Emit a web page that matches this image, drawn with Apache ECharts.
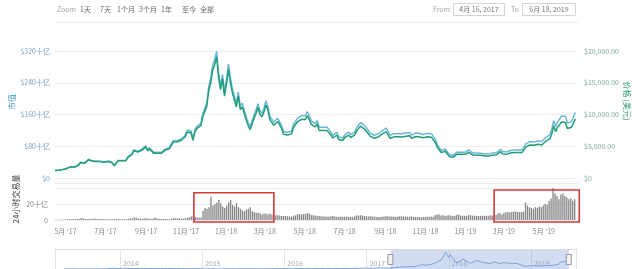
<!DOCTYPE html>
<html><head><meta charset="utf-8">
<script src="https://cdn.jsdelivr.net/npm/echarts@6/dist/echarts.min.js"></script>
<style>html,body{margin:0;padding:0;background:#fff;}#c{width:640px;height:269px;}</style>
</head><body><div id="c"></div>
<script>
// ---- data (3-day steps starting 2017-04-16) ----
const startDate = [2017, 3, 16];
const stepDays = 3;
const priceUSD = [
1180,1210,1230,1265,1320,
1420,1510,1560,1750,1720,1720,1960,2050,2450,2200,2300,
2520,2870,2800,2650,2450,2580,2700,2580,2500,2480,
2580,2610,2500,2380,1930,2300,2700,2750,2700,2750,
2720,3250,3420,3680,4300,4300,4100,4150,4350,4600,
4900,4250,4600,4300,3900,3650,3900,3650,3900,4200,
4400,4200,4600,4780,5650,5700,5700,6000,5900,5750,6450,
7200,6950,7150,5950,7300,7800,8050,8250,9700,9900,
11300,13700,15000,17000,17800,19100,15800,13900,15600,12900,
14800,17100,15000,13400,13600,11200,12900,10800,11200,11200,
9170,8270,7620,8550,8600,10200,11100,10000,9660,10400,
11500,10700,9200,9100,8300,8200,8900,8650,7800,6900,
7000,6780,7020,6950,8000,7900,8850,8950,9250,9400,
9200,9850,9200,8450,8700,8050,8500,7500,7350,7500,
7500,7500,7680,6770,6300,6500,6740,6050,6250,5900,
6350,6600,6750,6380,6250,6740,7380,7400,8170,8220,7730,
7420,6960,6550,6310,6270,6400,6480,6690,6910,6980,
7300,6800,6250,6300,6480,6280,6500,6700,6450,6620,
6560,6620,6640,6250,6280,6540,6470,6470,6470,6340,
6380,6480,6530,6400,6350,5600,4800,4400,4000,4280,
4200,3950,3400,3500,3280,3250,3750,4000,3740,3900,3740,
3800,4040,4000,3620,3560,3600,3540,3570,3530,3470,
3520,3470,3660,3600,3580,3670,3950,4140,3820,
3850,3720,3880,3930,3870,4000,4030,4000,3950,4030,4100,
4900,5050,5200,5050,5150,5300,5300,5450,5200,5350,
5800,5750,6150,6900,8200,7300,8000,8000,8800,8650,
8750,7800,7950,8000,8250,9300
];
const marketCapB = [
19.2,19.7,20.0,20.6,21.5,
23.1,24.6,25.4,28.5,28.0,28.0,31.9,33.4,39.9,35.9,37.5,
41.3,47.0,45.9,43.4,40.1,42.3,44.2,42.3,41.0,40.6,
42.4,42.9,41.1,39.2,31.7,37.8,44.4,45.2,44.4,45.2,
44.9,53.6,56.4,60.7,71.0,71.0,67.7,68.5,71.8,75.9,
81.1,70.4,76.2,71.2,64.6,60.4,64.6,60.4,64.6,69.6,
73.1,69.8,76.5,79.4,93.9,94.7,94.7,99.7,98.1,95.6,107.2,
120.1,115.9,119.3,99.2,121.8,130.1,134.3,137.6,161.8,165.1,
189.2,229.3,251.1,284.6,298.0,319.7,264.5,232.7,261.1,215.9,
248.6,287.3,252.0,225.1,228.5,188.2,216.7,181.4,188.2,188.2,
154.6,139.4,128.5,144.2,145.0,172.0,187.1,168.6,162.9,175.3,
194.6,181.0,155.7,154.0,140.4,138.7,150.6,146.4,132.0,116.7,
118.8,115.1,119.1,117.9,135.8,134.1,150.2,151.9,157.0,159.5,
156.7,167.7,156.7,143.9,148.2,137.1,144.8,127.7,125.2,127.7,
128.2,128.2,131.3,115.7,107.7,111.1,115.2,103.4,106.8,100.8,
108.8,113.1,115.7,109.4,107.1,115.5,126.5,126.8,140.0,140.9,132.5,
127.6,119.7,112.7,108.5,107.8,110.1,111.5,115.1,118.9,120.1,
126.0,117.4,107.9,108.7,111.8,108.4,112.2,115.6,111.3,114.3,
113.6,114.6,114.9,108.2,108.7,113.2,112.0,112.0,112.0,109.7,
110.8,112.5,113.4,111.1,110.2,97.2,83.3,76.4,69.4,74.3,
73.2,68.8,59.2,61.0,57.1,56.6,65.3,69.7,65.1,67.9,65.1,
66.4,70.6,69.9,63.2,62.2,62.9,61.8,62.4,61.7,60.6,
61.7,60.8,64.1,63.1,62.7,64.3,69.2,72.5,66.9,
67.7,65.4,68.2,69.1,68.0,70.3,70.8,70.3,69.4,70.8,72.1,
86.4,89.0,91.7,89.0,90.8,93.4,93.4,96.1,91.7,94.3,
102.6,101.7,108.8,122.1,145.1,129.1,141.5,141.5,155.7,153.0,
155.3,138.5,141.1,142.0,146.4,165.1
];
const volumeB = [
0.3,0.4,0.3,0.4,0.5,
0.6,0.8,0.9,1.0,1.1,0.9,1.2,1.4,2.5,1.8,1.3,
1.2,1.6,1.4,1.5,2.0,1.2,1.1,1.0,1.1,1.0,
0.9,0.8,0.9,0.8,1.1,1.2,1.6,1.0,1.0,0.9,
1.1,1.5,2.0,1.8,3.0,2.8,2.0,1.8,1.6,1.9,
2.3,1.9,1.5,1.4,2.4,2.8,1.6,1.2,1.1,1.3,
1.2,1.1,1.0,1.6,2.6,1.9,2.1,2.0,1.7,1.6,2.1,
3.0,3.5,4.5,5.0,3.5,3.0,3.2,3.0,12,15,
14,16,29,18,20,22,25,21,17,15,
18,22,25,19,17,21,16,14,12,11,
13,14,16,11,10,9,9,8,7,8,
8,7,8,7,6,6,6,5.5,5,5,
5,4.5,4.5,4.2,5.5,5.8,7.0,7.2,7.0,7.5,
7.8,8.5,8.0,6.5,5.8,5.5,5.2,5.0,4.6,4.4,
4.5,4.2,4.0,4.8,5.0,4.5,4.0,4.2,4.0,4.1,
4.0,4.3,4.0,3.9,3.6,4.2,5.8,5.5,6.0,5.5,5.0,
4.8,4.5,4.6,4.3,4.2,4.0,3.9,3.8,4.2,4.5,
4.8,4.6,4.4,4.3,4.2,4.0,4.3,4.8,4.4,4.5,
4.3,4.1,4.0,4.6,3.6,3.8,3.7,3.6,3.5,3.4,
3.7,4.0,4.1,4.3,4.2,6.0,7.0,6.8,5.5,6.0,
5.0,5.5,6.0,5.3,5.0,5.4,6.2,7.0,5.3,5.4,5.2,
5.2,6.0,6.2,5.4,5.3,5.1,5.0,5.2,5.1,5.3,
5.2,5.3,6.0,5.7,5.8,6.2,8.5,8.6,7.0,
9.0,9.5,10,9.5,10,10.5,10.5,10,9.8,10,10.5,
22,18,16,15,14,16,15,17,16,18,
20,19,24,27,40,33,30,26,32,33,
30,28,26,27,24,26
];
// navigator (full history)
const navDates = ['2013-04-28','2013-06-01','2013-07-05','2013-08-01','2013-09-01','2013-10-01','2013-11-01','2013-12-01','2013-12-18',
'2014-01-01','2014-02-01','2014-03-01','2014-04-01','2014-05-01','2014-06-01','2014-07-01','2014-08-01','2014-09-01','2014-10-01','2014-11-01','2014-12-01',
'2015-01-01','2015-01-14','2015-02-01','2015-03-01','2015-04-01','2015-05-01','2015-06-01','2015-07-01','2015-08-01','2015-09-01','2015-10-01','2015-11-01','2015-12-01',
'2016-01-01','2016-02-01','2016-03-01','2016-04-01','2016-05-01','2016-06-01','2016-07-01','2016-08-01','2016-09-01','2016-10-01','2016-11-01','2016-12-01',
'2017-01-01','2017-02-01','2017-03-01','2017-04-01','2017-05-01','2017-06-01','2017-07-01','2017-08-01','2017-09-01','2017-10-01','2017-11-01','2017-12-01','2017-12-17',
'2018-01-01','2018-01-07','2018-02-06','2018-03-05','2018-04-06','2018-05-05','2018-06-01','2018-07-01','2018-07-25','2018-08-14','2018-09-04','2018-10-01','2018-11-01','2018-11-25','2018-12-15',
'2019-01-01','2019-02-01','2019-03-01','2019-04-01','2019-04-05','2019-05-01','2019-05-15','2019-06-01','2019-06-18'];
const navPrices = [135,120,70,105,140,125,205,950,520,
750,830,560,480,450,630,640,590,480,385,325,380,
315,180,225,260,245,235,225,260,280,230,240,325,365,
435,375,435,415,450,535,675,620,575,610,730,755,
1000,990,1220,1090,1420,2400,2500,2720,4900,4400,6750,10900,19500,
13400,16500,6900,11500,6600,9800,7500,6400,8200,6300,7300,6600,6350,4000,3250,
3850,3500,3850,4150,5000,5300,8200,8600,9000];
const leftTicks = ['$0','$80十亿','$160十亿','$240十亿','$320十亿'];
const rightTicks = ['$0','$5,000.00','$10,000.00','$15,000.00','$20,000.00'];
const volTicks = ['0','20十亿'];
const zoomButtons = ['1天','7天','1个月','3个月','1年','至今','全部'];
const fromText = '4月 16, 2017';
const toText = '6月 18, 2019';
const viewStart = '2017-04-16', viewEnd = '2019-06-18';
const hlBoxes = [ // [startDate, endDate, topValue(十亿), bottomValue]
  ['2017-11-13','2018-03-15',34,-2.5],
  ['2019-02-14','2019-06-24',37.5,-2.5]
];

// ---- helpers ----
function d(s){const p=s.split('-').map(Number);return new Date(p[0],p[1]-1,p[2]).getTime();}
function stepDate(i){return new Date(startDate[0],startDate[1],startDate[2]+stepDays*i).getTime();}
const mc = marketCapB.map((v,i)=>[stepDate(i),v]);
const pr = priceUSD.map((v,i)=>[stepDate(i),v]);
const vol = volumeB.map((v,i)=>[stepDate(i),v]);
const nav = navPrices.map((v,i)=>[d(navDates[i]),v]);

const FONT = "'Noto Sans CJK SC','Noto Sans',sans-serif";
const L = 55, R = 64;
const chart = echarts.init(document.getElementById('c'), null, {renderer:'canvas'});
const DAY = 86400000;
const splitCol = '#ececec';

const option = {
  animation:false,
  textStyle:{fontFamily:FONT},
  grid:[
    {left:L,right:R,top:51,height:127},
    {left:L,right:R,top:188,height:32},
    {left:L,right:R,top:250,height:21}
  ],
  xAxis:[
    {type:'time',gridIndex:0,min:d(viewStart),max:d(viewEnd),axisLine:{show:false},axisTick:{show:false},axisLabel:{show:false},splitLine:{show:false}},
    {type:'time',gridIndex:1,min:d(viewStart),max:d(viewEnd),minInterval:28*DAY,maxInterval:31*DAY,
      axisLine:{show:false},axisTick:{show:false},splitLine:{show:false},
      axisLabel:{show:true,interval:0,hideOverlap:false,color:'#888',fontSize:7,margin:8,fontFamily:FONT,
        formatter:function(v){const t=new Date(v);if(t.getDate()!==1)return '';const m=t.getMonth()+1;if(m%2===0)return '';return m+'月 \''+String(t.getFullYear()).slice(2);}}},
    {type:'time',gridIndex:2,min:d('2013-03-18'),max:d('2019-07-20'),minInterval:360*DAY,maxInterval:370*DAY,
      axisLine:{show:false},axisTick:{show:false},
      splitLine:{show:true,lineStyle:{color:'#e4e4e4',width:1}},
      axisLabel:{show:true,inside:true,margin:2,color:'#aaa',fontSize:7,align:'left',padding:[0,0,0,3],
        formatter:function(v){const t=new Date(v);return (t.getMonth()===0&&t.getDate()===1)?String(t.getFullYear()):'';}}}
  ],
  yAxis:[
    {type:'value',gridIndex:0,min:0,max:320,interval:80,position:'left',axisLine:{show:false},axisTick:{show:false},
      splitLine:{lineStyle:{color:splitCol}},
      axisLabel:{color:'#7aa3c6',fontSize:7,margin:5,fontFamily:FONT,formatter:function(v){return leftTicks[Math.round(v/80)];}}},
    {type:'value',gridIndex:0,min:0,max:20000,interval:5000,position:'right',axisLine:{show:false},axisTick:{show:false},
      splitLine:{show:false},
      axisLabel:{color:'#7ea894',fontSize:7,margin:8,fontFamily:FONT,formatter:function(v){return rightTicks[Math.round(v/5000)];}}},
    {type:'value',gridIndex:1,min:0,max:40,interval:20,axisLine:{show:false},axisTick:{show:false},
      splitLine:{lineStyle:{color:splitCol}},
      axisLabel:{color:'#888',fontSize:7,margin:7,showMaxLabel:false,fontFamily:FONT,formatter:function(v){return volTicks[Math.round(v/20)]||'';}}},
    {type:'value',gridIndex:2,min:0,max:22000,show:false,splitLine:{show:false}}
  ],
  series:[
    {type:'line',name:'市值',xAxisIndex:0,yAxisIndex:0,data:mc,symbol:'none',lineStyle:{color:'#6db7d6',width:1.5},itemStyle:{color:'#6db7d6'}},
    {type:'line',name:'价格',xAxisIndex:0,yAxisIndex:1,data:pr,symbol:'none',lineStyle:{color:'#1f9d78',width:1.5},itemStyle:{color:'#1f9d78'}},
    {type:'bar',name:'24小时交易量',xAxisIndex:1,yAxisIndex:2,data:vol,barWidth:1.3,itemStyle:{color:'#858585'}},
    {type:'line',name:'nav',xAxisIndex:2,yAxisIndex:3,data:nav,symbol:'none',lineStyle:{color:'#7ba5d6',width:1},
      areaStyle:{color:'rgba(190,220,240,0.35)'},
      markArea:{silent:true,itemStyle:{color:'rgba(110,140,210,0.30)'},data:[[{xAxis:d(viewStart)},{xAxis:d(viewEnd)}]]}}
  ]
};
chart.setOption(option);

// ---- decorations & annotation boxes (positions via library scales) ----
const g = [];
const txt = (x,y,s,c,fs,extra)=>Object.assign({type:'text',x:x,y:y,style:Object.assign({text:s,fill:c,font:fs+'px '+FONT,textVerticalAlign:'middle'},extra||{})});
g.push(txt(57,9,'Zoom','#a0a0a0',7));
const bx=[80,100,117,139,161,182,200];
zoomButtons.forEach((b,i)=>g.push(txt(bx[i],9,b,'#666',7)));
g.push(txt(433,9,'From','#a0a0a0',7));
g.push({type:'rect',shape:{x:453.5,y:3.5,width:51,height:12},style:{fill:'#fff',stroke:'#d4d4d4',lineWidth:1}});
g.push(txt(479,9.5,fromText,'#777',7,{textAlign:'center'}));
g.push(txt(511,9,'To','#a0a0a0',7));
g.push({type:'rect',shape:{x:522.5,y:3.5,width:53,height:12},style:{fill:'#fff',stroke:'#d4d4d4',lineWidth:1}});
g.push(txt(549,9.5,toText,'#777',7,{textAlign:'center'}));
g.push({type:'line',shape:{x1:L,y1:22.5,x2:640-R+2,y2:22.5},style:{stroke:'#ececec',lineWidth:1}});
g.push({type:'line',shape:{x1:L,y1:183.5,x2:640-R+2,y2:183.5},style:{stroke:'#ececec',lineWidth:1}});
g.push({type:'line',shape:{x1:L,y1:249.5,x2:640-R+2,y2:249.5},style:{stroke:'#dcdcdc',lineWidth:1}});
// axis names
g.push({type:'text',x:12,y:102,rotation:Math.PI/2,style:{text:'市值',fill:'#4d9fd6',font:'8px '+FONT,textAlign:'center',textVerticalAlign:'middle'}});
g.push({type:'text',x:627,y:101,rotation:-Math.PI/2,style:{text:'价格 (美元)',fill:'#2e9d72',font:'8px '+FONT,textAlign:'center',textVerticalAlign:'middle'}});
g.push({type:'text',x:16,y:199,rotation:Math.PI/2,style:{text:'24小时交易量',fill:'#444',font:'8px '+FONT,textAlign:'center',textVerticalAlign:'middle'}});
// red highlight boxes
hlBoxes.forEach(b=>{
  const p1 = chart.convertToPixel({xAxisIndex:1,yAxisIndex:2},[d(b[0]),b[2]]);
  const p2 = chart.convertToPixel({xAxisIndex:1,yAxisIndex:2},[d(b[1]),b[3]]);
  g.push({type:'rect',z:100,shape:{x:p1[0],y:p1[1],width:p2[0]-p1[0],height:p2[1]-p1[1]},style:{fill:'none',stroke:'#d23a3a',lineWidth:1.6}});
});
// navigator handles
[viewStart,viewEnd].forEach(s=>{
  const p = chart.convertToPixel({xAxisIndex:2,yAxisIndex:3},[d(s),11000]);
  g.push({type:'rect',z:100,shape:{x:p[0]-2.5,y:p[1]-5,width:5,height:10},style:{fill:'#f2f2f2',stroke:'#999',lineWidth:1}});
});
chart.setOption({graphic:g});
</script>
</body></html>
